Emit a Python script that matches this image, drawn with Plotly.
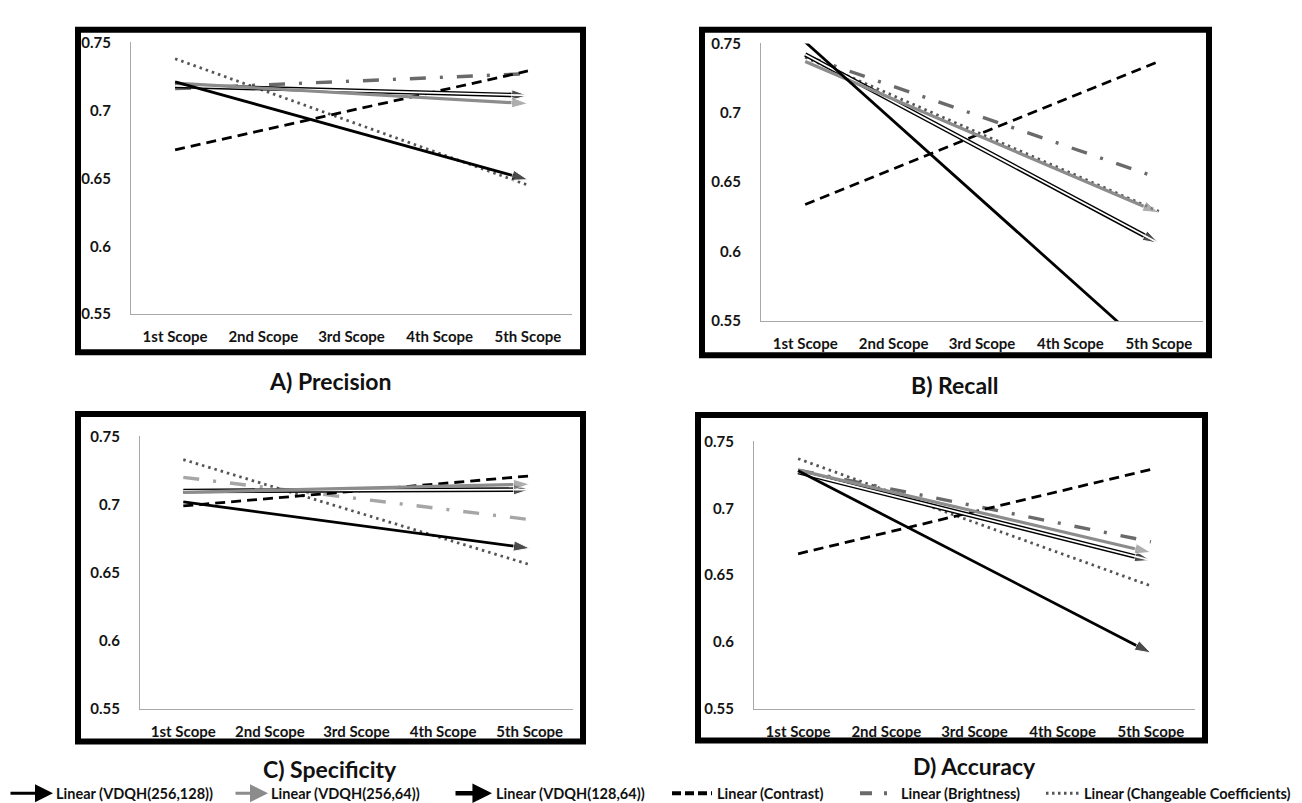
import plotly.graph_objects as go

# ---------------- data ----------------
categories = ["1st Scope", "2nd Scope", "3rd Scope", "4th Scope", "5th Scope"]
series_names = ["Linear (VDQH(256,128))", "Linear (VDQH(256,64))", "Linear (VDQH(128,64))",
                "Linear (Contrast)", "Linear (Brightness)", "Linear (Changeable Coefficients)"]
y_ticks = [0.55, 0.6, 0.65, 0.7, 0.75]
y_tick_labels = ["0.55", "0.6", "0.65", "0.7", "0.75"]
panel_titles = ["A) Precision", "B) Recall", "C) Specificity", "D) Accuracy"]

# trend line values at 1st Scope and 5th Scope, in series_names order
precision_values = [[0.721, 0.649], [0.720, 0.705], [0.718, 0.711], [0.671, 0.729], [0.716, 0.727], [0.738, 0.645]]
recall_values = [[0.751, 0.523], [0.737, 0.628], [0.742, 0.606], [0.634, 0.737], [0.741, 0.653], [0.740, 0.629]]
specificity_values = [[0.702, 0.668], [0.709, 0.715], [0.710, 0.711], [0.699, 0.721], [0.720, 0.689], [0.733, 0.656]]
accuracy_values = [[0.728, 0.592], [0.7285, 0.667], [0.727, 0.661], [0.666, 0.729], [0.7285, 0.675], [0.737, 0.642]]

panels_values = [precision_values, recall_values, specificity_values, accuracy_values]

# ---------------- layout geometry (pixels) ----------------
W, H = 1302, 803
def px(x):
    return x / W
def py(y):
    return 1 - y / H

# plot areas: (left, right, top, bottom)
plot_boxes = [(123, 564, 25, 303), (753, 1195, 26, 310), (132, 565, 428, 707), (746, 1187, 433, 707)]
# frame stroke centres
frame_boxes = [(70, 575, 12, 342), (694, 1201, 12, 345), (70, 575, 405, 740), (690, 1197, 406, 739)]
title_pos = [(322, 371), (947, 375), (322, 768), (966, 765)]

brightness_colors = ["#6a6a6a", "#6a6a6a", "#a6a6a6", "#6a6a6a"]

fig = go.Figure()
tick_font = dict(family="Lato, 'Open Sans', sans-serif", size=15, color="#141414", weight="bold")
ARROW = 17

for i, vals in enumerate(panels_values):
    xa = "x" if i == 0 else f"x{i+1}"
    ya = "y" if i == 0 else f"y{i+1}"
    xends = [categories[0], categories[-1]]
    draw_order = [4, 5, 3, 2, 1, 0]
    for k in draw_order:
        v = vals[k]
        if k == 0:
            fig.add_trace(go.Scatter(x=xends, y=v, xaxis=xa, yaxis=ya, mode="lines+markers",
                                     line=dict(color="#000000", width=2.8),
                                     marker=dict(symbol="arrow", angleref="previous", size=[0, ARROW], color="#000000"),
                                     name=series_names[k], showlegend=False, hoverinfo="skip"))
        elif k == 1:
            fig.add_trace(go.Scatter(x=xends, y=v, xaxis=xa, yaxis=ya, mode="lines+markers",
                                     line=dict(color="#8c8c8c", width=3.2),
                                     marker=dict(symbol="arrow", angleref="previous", size=[0, ARROW], color="#8c8c8c"),
                                     name=series_names[k], showlegend=False, hoverinfo="skip"))
        elif k == 2:
            fig.add_trace(go.Scatter(x=xends, y=v, xaxis=xa, yaxis=ya, mode="lines+markers",
                                     line=dict(color="#000000", width=4.6),
                                     marker=dict(symbol="arrow", angleref="previous", size=[0, ARROW], color="#000000"),
                                     name=series_names[k], showlegend=False, hoverinfo="skip"))
            fig.add_trace(go.Scatter(x=xends, y=v, xaxis=xa, yaxis=ya, mode="lines",
                                     line=dict(color="#ffffff", width=1.8),
                                     name=series_names[k], showlegend=False, hoverinfo="skip"))
        elif k == 3:
            fig.add_trace(go.Scatter(x=xends, y=v, xaxis=xa, yaxis=ya, mode="lines",
                                     line=dict(color="#000000", width=2.8, dash="10px,6px"),
                                     name=series_names[k], showlegend=False, hoverinfo="skip"))
        elif k == 4:
            fig.add_trace(go.Scatter(x=xends, y=v, xaxis=xa, yaxis=ya, mode="lines",
                                     line=dict(color=brightness_colors[i], width=3.4, dash="16px,14px,3px,14px"),
                                     name=series_names[k], showlegend=False, hoverinfo="skip"))
        elif k == 5:
            fig.add_trace(go.Scatter(x=xends, y=v, xaxis=xa, yaxis=ya, mode="lines",
                                     line=dict(color="#555555", width=2.8, dash="2.5px,4px"),
                                     name=series_names[k], showlegend=False, hoverinfo="skip"))

    l, r, t, b = plot_boxes[i]
    xkey = "xaxis" if i == 0 else f"xaxis{i+1}"
    ykey = "yaxis" if i == 0 else f"yaxis{i+1}"
    fig.layout[xkey] = dict(domain=[px(l), px(r)], anchor=ya, type="category",
                            categoryorder="array", categoryarray=categories,
                            range=[-0.5, len(categories) - 0.5], showgrid=False, zeroline=False,
                            showline=True, linecolor="#a8a8a8", linewidth=1.2,
                            ticks="", tickfont=tick_font, ticklabelstandoff=9, fixedrange=True)
    fig.layout[ykey] = dict(domain=[py(b), py(t)], anchor=xa, range=[0.55, 0.75],
                            tickvals=y_ticks, ticktext=y_tick_labels, showgrid=False, zeroline=False,
                            showline=True, linecolor="#a8a8a8", linewidth=1.2,
                            ticks="", tickfont=tick_font, ticklabelstandoff=16, fixedrange=True)

shapes = []
for (l, r, t, b) in frame_boxes:
    shapes.append(dict(type="rect", xref="paper", yref="paper", x0=px(l), x1=px(r), y0=py(b), y1=py(t),
                       line=dict(color="#000000", width=6), fillcolor="rgba(0,0,0,0)", layer="above"))

annotations = []
for (tx, ty), title in zip(title_pos, panel_titles):
    annotations.append(dict(text=title, x=px(tx), y=py(ty), xref="paper", yref="paper",
                            showarrow=False, xanchor="center", yanchor="middle",
                            font=dict(family="Lato, 'Open Sans', sans-serif", size=23, color="#111111", weight="bold")))

# ---------------- legend (drawn) ----------------
leg_y = 793
legend_samples = [(1, 45, 46), (226, 260, 261), (446, 484, 486), (664, 704, 707), (852, 888, 891), (1038, 1072, 1074)]
for k, (s0, s1, tx) in enumerate(legend_samples):
    if k in (0, 1, 2):
        col = "#8c8c8c" if k == 1 else "#000000"
        w = 4.6 if k == 2 else 3
        annotations.append(dict(x=px(s1), y=py(leg_y), xref="paper", yref="paper", text="",
                                showarrow=True, arrowhead=2, arrowsize=1.2 if k != 2 else 0.85,
                                arrowwidth=w, arrowcolor=col, ax=-(s1 - s0), ay=0, standoff=0))
        if k == 2:
            shapes.append(dict(type="line", xref="paper", yref="paper", x0=px(s0), x1=px(s1 - 11),
                               y0=py(leg_y), y1=py(leg_y), line=dict(color="#ffffff", width=1.8)))
    elif k == 3:
        shapes.append(dict(type="line", xref="paper", yref="paper", x0=px(s0), x1=px(s1),
                           y0=py(leg_y), y1=py(leg_y), line=dict(color="#000000", width=4, dash="9px,4px")))
    elif k == 4:
        shapes.append(dict(type="line", xref="paper", yref="paper", x0=px(s0), x1=px(s1),
                           y0=py(leg_y), y1=py(leg_y), line=dict(color="#6a6a6a", width=4, dash="12px,12px,3px,12px")))
    elif k == 5:
        shapes.append(dict(type="line", xref="paper", yref="paper", x0=px(s0), x1=px(s1),
                           y0=py(leg_y), y1=py(leg_y), line=dict(color="#555555", width=3, dash="2.5px,3.5px")))
    annotations.append(dict(text=series_names[k], x=px(tx), y=py(leg_y), xref="paper", yref="paper",
                            showarrow=False, xanchor="left", yanchor="middle",
                            font=dict(family="Lato, 'Open Sans', sans-serif", size=14.5,
                                      color="#111111", weight="bold")))

fig.update_layout(width=W, height=H, margin=dict(l=0, r=0, t=0, b=0),
                  paper_bgcolor="#ffffff", plot_bgcolor="#ffffff",
                  shapes=shapes, annotations=annotations, showlegend=False)

fig.write_html("out.html")
